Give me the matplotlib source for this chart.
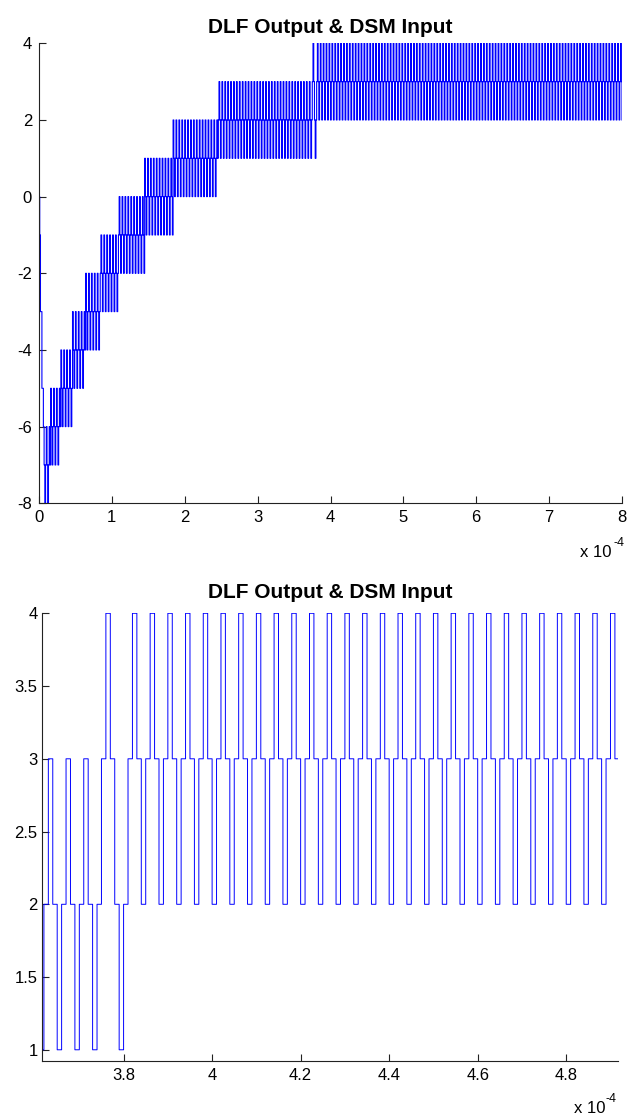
import matplotlib
matplotlib.use('Agg')
import matplotlib.pyplot as plt
import numpy as np

plt.rcParams['font.family'] = ['Liberation Sans', 'DejaVu Sans']
plt.rcParams['axes.unicode_minus'] = False

# DLF output, one sample per microsecond.
# Each segment repeats its cycle of levels from its start time until the next one.
seg_start_us = [0, 6, 16, 30, 46, 64, 85, 110, 145, 184, 246, 374, 382]
seg_cycle = [
    [0, -1, -3, -3, -5, -5],
    [-6, -7, -8, -7],
    [-5, -6, -7, -6],
    [-4, -5, -6, -5],
    [-3, -4, -5, -4],
    [-2, -3, -4, -3],
    [-1, -2, -3, -2],
    [0, -1, -2, -1],
    [1, 0, -1, 0],
    [2, 1, 0, 1],
    [2, 3, 2, 1],
    [2, 3, 4, 3, 2, 1, 2, 3],
    [4, 3, 2, 3],
]
t_end_us = 800

# axis settings (x in units of 1e-4 s)
full_xticks = [0, 1, 2, 3, 4, 5, 6, 7, 8]
full_yticks = [-8, -6, -4, -2, 0, 2, 4]
zoom_xlim = (3.615, 4.917)
zoom_ylim = (0.925, 4)
zoom_xticks = [3.8, 4, 4.2, 4.4, 4.6, 4.8]
zoom_yticks = [1, 1.5, 2, 2.5, 3, 3.5, 4]

# expand segments into the sample sequence
t_us = np.arange(0, t_end_us + 1)
y = np.zeros(len(t_us), dtype=int)
bounds = seg_start_us + [t_end_us + 1]
for i, cyc in enumerate(seg_cycle):
    y[bounds[i]:bounds[i + 1]] = np.resize(cyc, bounds[i + 1] - bounds[i])
t = t_us / 100.0

W, H = 628, 1120
fig = plt.figure(figsize=(W / 100, H / 100), dpi=100)
ax1 = fig.add_axes([39 / W, 1 - 503.3 / H, 583 / W, 460 / H])
ax2 = fig.add_axes([41.7 / W, 1 - 1060.7 / H, 576.3 / W, 447.4 / H])


def style(ax, pad):
    for s in ['top', 'right']:
        ax.spines[s].set_visible(False)
    for s in ['left', 'bottom']:
        ax.spines[s].set_linewidth(0.8)
        ax.spines[s].set_color('#222222')
    ax.tick_params(direction='in', length=5, width=0.8, labelsize=12,
                   top=False, right=False, colors='#222222', labelcolor='black')
    ax.tick_params(axis='y', pad=pad)
    ax.tick_params(axis='x', pad=5)


ax1.plot(t, y, color=(0, 0, 1), lw=0.8, drawstyle='steps-post')
ax1.set_xlim(0, 8)
ax1.set_ylim(-8, 4)
ax1.set_xticks(full_xticks)
ax1.set_yticks(full_yticks)
ax1.set_xticklabels(['%g' % v for v in full_xticks])
ax1.set_yticklabels(['%g' % v for v in full_yticks])
style(ax1, 5)
ax1.set_title('DLF Output & DSM Input', fontsize=15, fontweight='bold', pad=7.5)

ax2.plot(t, y, color=(0, 0, 1), lw=0.7, drawstyle='steps-post')
ax2.set_xlim(*zoom_xlim)
ax2.set_ylim(*zoom_ylim)
ax2.set_xticks(zoom_xticks)
ax2.set_yticks(zoom_yticks)
ax2.set_xticklabels(['%g' % v for v in zoom_xticks])
ax2.set_yticklabels(['%g' % v for v in zoom_yticks])
style(ax2, 3)
ax2.set_title('DLF Output & DSM Input', fontsize=15, fontweight='bold', pad=11)

# MATLAB-style exponent labels
fig.text(612 / W, 1 - 557 / H, 'x 10', fontsize=12, ha='right', va='baseline')
fig.text(613 / W, 1 - 546 / H, '-4', fontsize=9, ha='left', va='baseline')
fig.text(605 / W, 1 - 1113 / H, 'x 10', fontsize=12, ha='right', va='baseline')
fig.text(606 / W, 1 - 1102 / H, '-4', fontsize=9, ha='left', va='baseline')

fig.savefig('out.png', dpi=100)
